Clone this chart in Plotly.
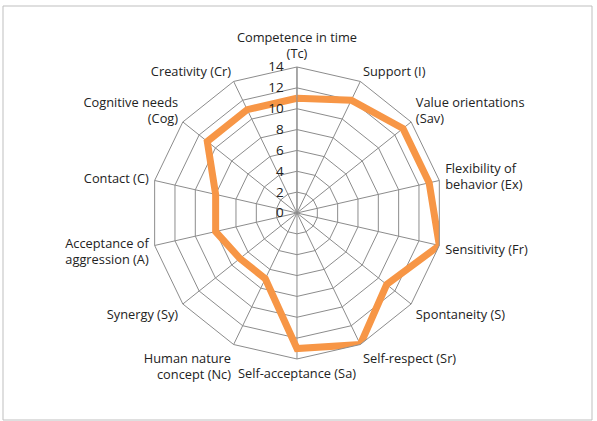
import plotly.graph_objects as go

categories = [
    "Competence in time<br>(Tc)", "Support (I)", "Value orientations<br>(Sav)",
    "Flexibility of<br>behavior (Ex)", "Sensitivity (Fr)", "Spontaneity (S)",
    "Self-respect (Sr)", "Self-acceptance (Sa)", "Human nature<br>concept (Nc)",
    "Synergy (Sy)", "Acceptance of<br>aggression (A)", "Contact (C)",
    "Cognitive needs<br>(Cog)", "Creativity (Cr)",
]
values = [11, 12, 13, 13, 14, 11, 14, 13, 7, 7, 8, 8, 11, 11]
radial_ticks = [0, 2, 4, 6, 8, 10, 12, 14]

fig = go.Figure()
fig.add_trace(go.Scatterpolar(
    r=values + values[:1],
    theta=categories + categories[:1],
    mode="lines",
    line=dict(color="#F79646", width=7),
    showlegend=False,
))

grid = "#8C8C8C"
fig.update_layout(
    width=597, height=421,
    margin=dict(l=0, r=0, t=0, b=0),
    paper_bgcolor="white",
    font=dict(family="Open Sans", size=12.8, color="#222222"),
    polar=dict(
        domain=dict(x=[0.2529, 0.742], y=[0.1473, 0.8409]),
        bgcolor="white",
        gridshape="linear",
        angularaxis=dict(
            rotation=90, direction="clockwise",
            categoryorder="array", categoryarray=categories,
            showline=True, linecolor=grid, linewidth=1,
            gridcolor=grid, gridwidth=1,
            ticks="outside", ticklen=3, tickcolor="rgba(0,0,0,0)",
            tickfont=dict(size=12.8, color="#222222"),
        ),
        radialaxis=dict(
            range=[0, 14], tickvals=radial_ticks,
            angle=90, tickangle=90, side="counterclockwise",
            showline=True, linecolor=grid, linewidth=1,
            gridcolor=grid, gridwidth=1,
            ticks="outside", ticklen=8, tickcolor="rgba(0,0,0,0)",
            tickfont=dict(size=13.5, color="#222222"),
        ),
    ),
    shapes=[dict(type="rect", xref="paper", yref="paper",
                 x0=3/597, x1=592/597, y0=1-420/421, y1=1-6/421,
                 line=dict(color="#BFBFBF", width=1))],
)

fig.write_html("out.html")
